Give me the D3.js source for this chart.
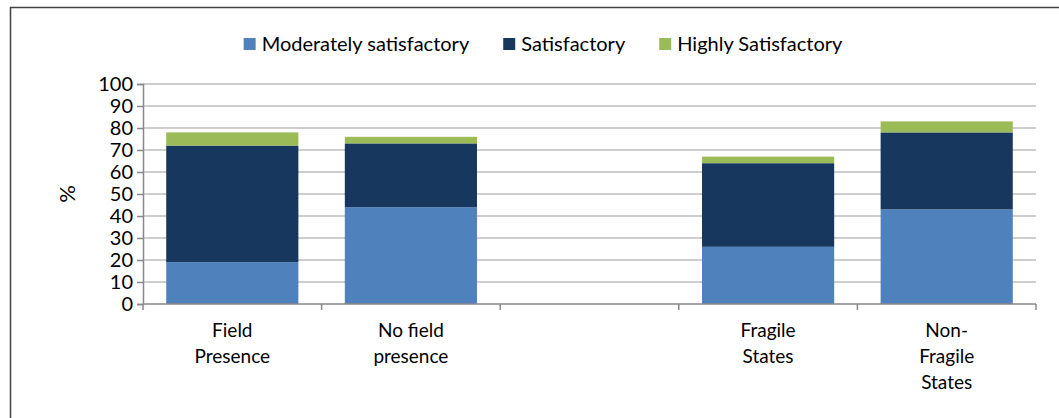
<!DOCTYPE html>
<html>
<head>
<meta charset="utf-8">
<script src="https://cdn.jsdelivr.net/npm/d3@7"></script>
<style>
  body { margin: 0; background: #fff; }
  svg { display: block; font-family: Lato, "Open Sans", sans-serif; }
</style>
</head>
<body>
<div id="chart"></div>
<script>
// data
let categories = ['Field Presence', 'No field presence', '', 'Fragile States', 'Non-Fragile States']
let categoryLines = [['Field', 'Presence'], ['No field', 'presence'], [], ['Fragile', 'States'], ['Non-', 'Fragile', 'States']]
let seriesNames = ['Moderately satisfactory', 'Satisfactory', 'Highly Satisfactory']
let moderately = [19, 44, null, 26, 43]
let satisfactory = [53, 29, null, 38, 35]
let highly = [6, 3, null, 3, 5]
let yTicks = [0, 10, 20, 30, 40, 50, 60, 70, 80, 90, 100]

let colors = ['#4F81BD', '#17375E', '#9BBB59']

let svgWidth = 1059,
    svgHeight = 418,
    plot = { left: 143, right: 1036, top: 84, bottom: 304 }

let svg = d3.select('#chart')
    .append('svg')
    .attr('width', svgWidth)
    .attr('height', svgHeight)

// frame round the chart (top and left edges visible)
svg.append('path')
    .attr('d', `M10.5,${svgHeight} V7.5 H${svgWidth}`)
    .attr('fill', 'none')
    .attr('stroke', '#404040')
    .attr('stroke-width', 1.5)

// keys must be unique for the band scale
let keys = categories.map((c, i) => c || 'blank' + i)

let x = d3.scaleBand()
    .domain(keys)
    .range([plot.left, plot.right])
    .paddingInner(0.26)
    .paddingOuter(0.13)

let y = d3.scaleLinear()
    .domain([0, 100])
    .range([plot.bottom, plot.top])

// gridlines
svg.append('g')
    .selectAll('line')
    .data(yTicks.slice(1))
    .enter().append('line')
    .attr('x1', plot.left)
    .attr('x2', plot.right)
    .attr('y1', d => y(d))
    .attr('y2', d => y(d))
    .attr('stroke', '#BEBEBE')
    .attr('stroke-width', 1.5)

// stack the series
let rows = keys.map((k, i) => ({
    key: k,
    [seriesNames[0]]: moderately[i] || 0,
    [seriesNames[1]]: satisfactory[i] || 0,
    [seriesNames[2]]: highly[i] || 0
}))
let stacked = d3.stack().keys(seriesNames)(rows)

svg.append('g')
    .selectAll('g')
    .data(stacked)
    .enter().append('g')
    .attr('fill', (d, i) => colors[i])
    .selectAll('rect')
    .data(d => d.filter(p => p[1] > p[0]))
    .enter().append('rect')
    .attr('x', d => x(d.data.key))
    .attr('width', x.bandwidth())
    .attr('y', d => y(d[1]))
    .attr('height', d => y(d[0]) - y(d[1]))

// y axis
let yAxis = svg.append('g')
    .attr('transform', `translate(${plot.left},0)`)
    .call(d3.axisLeft(y).tickValues(yTicks).tickSize(6).tickPadding(4))
yAxis.select('.domain').attr('stroke', '#888').attr('stroke-width', 1.5)
yAxis.selectAll('.tick line').attr('stroke', '#888').attr('stroke-width', 1.5)
yAxis.selectAll('.tick text')
    .attr('font-size', 20)
    .attr('font-family', 'Lato, sans-serif')
    .attr('fill', '#000')

svg.append('text')
    .attr('transform', `translate(75,${(plot.top + plot.bottom) / 2}) rotate(-90)`)
    .attr('text-anchor', 'middle')
    .attr('font-size', 22)
    .text('%')

// x axis: line with ticks on the category boundaries
let step = x.step()
let bounds = d3.range(keys.length + 1).map(i => plot.left + i * step)
let xAxis = svg.append('g')
xAxis.append('line')
    .attr('x1', plot.left)
    .attr('x2', plot.right)
    .attr('y1', plot.bottom)
    .attr('y2', plot.bottom)
    .attr('stroke', '#888')
    .attr('stroke-width', 1.5)
xAxis.selectAll('.bound')
    .data(bounds)
    .enter().append('line')
    .attr('class', 'bound')
    .attr('x1', d => d)
    .attr('x2', d => d)
    .attr('y1', plot.bottom)
    .attr('y2', plot.bottom + 6)
    .attr('stroke', '#888')
    .attr('stroke-width', 1.5)

xAxis.selectAll('.label')
    .data(keys)
    .enter().append('text')
    .attr('class', 'label')
    .attr('text-anchor', 'middle')
    .attr('font-size', 19)
    .attr('x', d => x(d) + x.bandwidth() / 2)
    .attr('y', 337)
    .selectAll('tspan')
    .data((d, i) => categoryLines[i])
    .enter().append('tspan')
    .attr('x', function() { return this.parentNode.getAttribute('x') })
    .attr('dy', (d, i) => i === 0 ? 0 : 26)
    .text(d => d)

// legend
let legend = svg.append('g').attr('font-size', 20)
let items = legend.selectAll('.key')
    .data(seriesNames)
    .enter().append('g')
    .attr('class', 'key')
items.append('rect')
    .attr('width', 12)
    .attr('height', 12)
    .attr('y', -13)
    .attr('fill', (d, i) => colors[i])
items.append('text')
    .attr('x', 18)
    .text(d => d)

// lay the legend items out side by side, centred
let widths = []
items.select('text').each(function() { widths.push(18 + this.getComputedTextLength()) })
let gap = 34
let total = d3.sum(widths) + gap * (widths.length - 1)
let pos = 543 - total / 2
items.attr('transform', (d, i) => {
    let t = `translate(${pos},51)`
    pos += widths[i] + gap
    return t
})
</script>
</body>
</html>
